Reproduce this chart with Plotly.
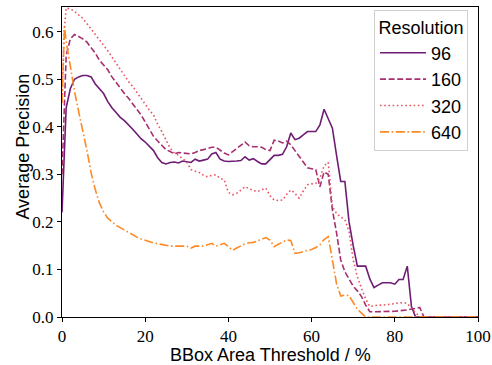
import plotly.graph_objects as go

# ---- data ----
x_96 = [0, 0.5, 1, 2, 3, 4, 5, 6, 7, 8, 9, 10, 11, 12, 13, 14, 15, 16, 17, 18, 19, 20,
        21, 22, 23, 24, 25, 26, 27, 28, 29, 30, 31, 32, 33, 34, 35, 36, 37, 38, 39, 40,
        41, 42, 43, 44, 45, 46, 47, 48, 49, 50, 51, 52, 53, 54, 55, 56, 57, 58, 59, 60,
        61, 62, 63, 64, 65, 66, 67, 68, 69, 70, 71, 72, 73, 74, 75, 76, 77, 78, 79, 80,
        81, 82, 83, 84, 85, 100]
y_96 = [0.22, 0.33, 0.44, 0.48, 0.50, 0.505, 0.508, 0.508, 0.505, 0.49, 0.48, 0.47, 0.453,
        0.44, 0.43, 0.42, 0.413, 0.405, 0.395, 0.385, 0.375, 0.368,
        0.36, 0.35, 0.335, 0.325, 0.322, 0.325, 0.326, 0.324, 0.328, 0.327, 0.325, 0.332,
        0.328, 0.33, 0.332, 0.343, 0.346, 0.332, 0.328, 0.327,
        0.327, 0.328, 0.329, 0.337, 0.33, 0.333, 0.327, 0.322, 0.322, 0.332, 0.34, 0.34,
        0.342, 0.358, 0.387, 0.373, 0.376, 0.383, 0.39, 0.39,
        0.39, 0.404, 0.437, 0.417, 0.397, 0.34, 0.285, 0.285, 0.2, 0.15, 0.107, 0.107,
        0.107, 0.08, 0.062, 0.067, 0.072, 0.072, 0.072, 0.069,
        0.079, 0.079, 0.107, 0.022, 0.0, 0.0]

x_160 = [0, 0.5, 1, 2, 3, 4, 5, 6, 7, 8, 9, 10, 11, 12, 13, 14, 15, 16, 17, 18, 19, 20,
         21, 22, 23, 24, 25, 26, 27, 28, 29, 30, 31, 32, 33, 34, 35, 36, 37, 38, 39, 40,
         41, 42, 43, 44, 45, 46, 47, 48, 49, 50, 51, 52, 53, 54, 55, 56, 57, 58, 59, 60,
         61, 62, 63, 64, 65, 66, 67, 68, 69, 70, 71, 72, 73, 74, 75, 80, 83, 84, 85, 86,
         87, 100]
y_160 = [0.30, 0.45, 0.55, 0.585, 0.594, 0.59, 0.585, 0.578, 0.567, 0.555, 0.54, 0.53,
         0.52, 0.505, 0.493, 0.48, 0.47, 0.46, 0.448, 0.436, 0.425, 0.41,
         0.395, 0.38, 0.37, 0.36, 0.352, 0.348, 0.343, 0.346, 0.345, 0.343, 0.343, 0.346,
         0.35, 0.352, 0.355, 0.357, 0.357, 0.35, 0.345, 0.341,
         0.348, 0.355, 0.36, 0.368, 0.36, 0.358, 0.358, 0.357, 0.352, 0.35, 0.372, 0.37,
         0.366, 0.37, 0.362, 0.35, 0.338, 0.325, 0.314, 0.312,
         0.31, 0.274, 0.305, 0.30, 0.225, 0.177, 0.12, 0.095, 0.08, 0.065, 0.055, 0.043,
         0.025, 0.011, 0.011, 0.012, 0.015, 0.016, 0.018, 0.02,
         0.0, 0.0]

x_320 = [0, 0.5, 1, 2, 3, 4, 5, 6, 7, 8, 9, 10, 11, 12, 13, 14, 15, 16, 17, 18, 19, 20,
         21, 22, 23, 24, 25, 26, 27, 28, 29, 30, 31, 32, 33, 34, 35, 36, 37, 38, 39, 40,
         41, 42, 43, 44, 45, 46, 47, 48, 49, 50, 51, 52, 53, 54, 55, 56, 57, 58, 59, 60,
         61, 62, 63, 64, 65, 66, 67, 68, 69, 70, 71, 72, 73, 74, 75, 76, 77, 78, 79, 80,
         81, 82, 83, 84, 85, 86, 100]
y_320 = [0.45, 0.60, 0.65, 0.648, 0.643, 0.636, 0.628, 0.617, 0.606, 0.595, 0.582, 0.572,
         0.56, 0.547, 0.534, 0.52, 0.506, 0.495, 0.485, 0.472, 0.46, 0.448,
         0.435, 0.425, 0.405, 0.39, 0.372, 0.355, 0.345, 0.34, 0.333, 0.326, 0.31, 0.307,
         0.304, 0.298, 0.295, 0.298, 0.299, 0.292, 0.288, 0.262,
         0.257, 0.26, 0.268, 0.274, 0.27, 0.266, 0.264, 0.268, 0.271, 0.255, 0.246, 0.245,
         0.246, 0.258, 0.267, 0.26, 0.25, 0.265, 0.278, 0.28,
         0.281, 0.292, 0.318, 0.325, 0.232, 0.218, 0.21, 0.205, 0.18, 0.12, 0.085, 0.06,
         0.038, 0.022, 0.024, 0.025, 0.025, 0.026, 0.026, 0.028,
         0.03, 0.03, 0.029, 0.018, 0.01, 0.0, 0.0]

x_640 = [0, 0.6, 1, 2, 3, 4, 5, 6, 7, 8, 9, 10, 11, 12, 13, 14, 15, 16, 17, 18, 19, 20,
         21, 22, 23, 24, 25, 26, 27, 28, 29, 30, 31, 32, 33, 34, 35, 36, 37, 38, 39, 40,
         41, 42, 43, 44, 45, 46, 47, 48, 49, 50, 51, 52, 53, 54, 55, 56, 57, 58, 59, 60,
         61, 62, 63, 64, 65, 66, 67, 68, 69, 70, 71, 72, 73, 100]
y_640 = [0.45, 0.61, 0.58, 0.525, 0.475, 0.432, 0.392, 0.35, 0.303, 0.268, 0.24, 0.221,
         0.208, 0.2, 0.193, 0.188, 0.183, 0.177, 0.172, 0.168, 0.164, 0.161,
         0.158, 0.156, 0.154, 0.152, 0.151, 0.149, 0.149, 0.149, 0.149, 0.149, 0.145, 0.149,
         0.149, 0.149, 0.152, 0.155, 0.149, 0.152, 0.155, 0.148,
         0.14, 0.145, 0.15, 0.154, 0.156, 0.157, 0.16, 0.163, 0.167, 0.162, 0.148, 0.153,
         0.158, 0.162, 0.161, 0.134, 0.135, 0.138, 0.14, 0.142,
         0.146, 0.152, 0.163, 0.169, 0.115, 0.07, 0.044, 0.046, 0.045, 0.03, 0.016, 0.008,
         0.0, 0.0]

series_names = ["96", "160", "320", "640"]
x_ticks = [0, 20, 40, 60, 80, 100]
y_ticks = [0.0, 0.1, 0.2, 0.3, 0.4, 0.5, 0.6]
x_title = "BBox Area Threshold / %"
y_title = "Average Precision"
legend_title = "Resolution"

colors = ["#6e1d74", "#a6306f", "#ea5560", "#fd8a25"]
dashes = ["solid", "6px,2.6px", "1.6px,2.6px", "9px,2.6px,1.6px,2.6px"]

fig = go.Figure()
for name, xs, ys, c, d in zip(series_names, [x_96, x_160, x_320, x_640],
                              [y_96, y_160, y_320, y_640], colors, dashes):
    fig.add_trace(go.Scatter(x=xs, y=ys, mode="lines", name=name,
                             line=dict(color=c, width=1.6, dash=d)))

serif = "Liberation Serif, DejaVu Serif, serif"
sans = "Liberation Sans, Arial, sans-serif"

fig.update_layout(
    width=492, height=365,
    margin=dict(l=62, r=14, t=7, b=48, autoexpand=False),
    plot_bgcolor="white", paper_bgcolor="white",
    font=dict(family=sans, size=18, color="black"),
    legend=dict(
        x=0.976, y=0.99, xanchor="right", yanchor="top",
        bgcolor="rgba(255,255,255,0.85)", bordercolor="#d0d0d0", borderwidth=1,
        font=dict(family=sans, size=18, color="black"),
        title=dict(text=legend_title, side="top center",
                   font=dict(family=sans, size=18, color="black")),
        itemwidth=46,
    ),
    annotations=[
        dict(text=x_title, xref="paper", yref="paper", x=0.5, y=-0.122,
             xanchor="center", yanchor="middle", showarrow=False,
             font=dict(family=sans, size=18, color="black")),
        dict(text=y_title, xref="paper", yref="paper", x=-0.096, y=0.55,
             xanchor="center", yanchor="middle", showarrow=False, textangle=-90,
             font=dict(family=sans, size=18, color="black")),
    ],
)
fig.update_xaxes(
    range=[0, 100], tickvals=x_ticks, ticktext=[str(v) for v in x_ticks],
    showline=True, mirror=True, linecolor="black", linewidth=1,
    ticks="outside", ticklen=4, tickcolor="black", showgrid=False, zeroline=False,
    tickfont=dict(family=serif, size=17, color="black"), automargin=False,
)
fig.update_yaxes(
    range=[0, 0.652], tickvals=y_ticks, ticktext=["%.1f" % v for v in y_ticks],
    showline=True, mirror=True, linecolor="black", linewidth=1,
    ticks="outside", ticklen=4, tickcolor="black", showgrid=False, zeroline=False,
    tickfont=dict(family=serif, size=17, color="black"), automargin=False,
)

fig.write_html("out.html", config={"displayModeBar": False},
               post_script="document.body.style.margin='0';document.body.style.overflow='hidden';")
